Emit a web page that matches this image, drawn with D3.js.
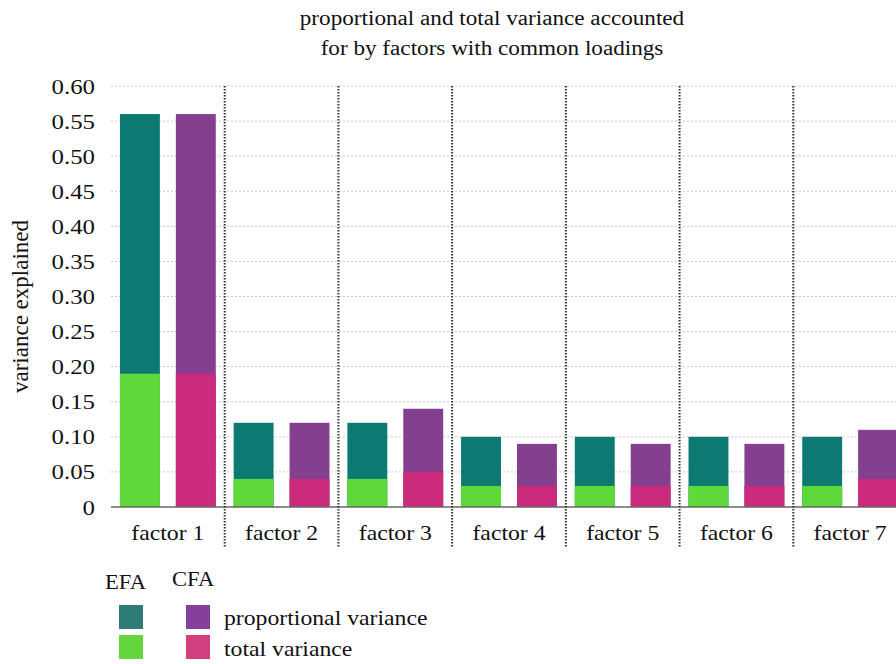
<!DOCTYPE html>
<html>
<head>
<meta charset="utf-8">
<script src="https://cdn.jsdelivr.net/npm/d3@7"></script>
<style>
  body { margin: 0; background: #fff; }
  svg { display: block; font-family: "Liberation Serif", "Times New Roman", serif; }
</style>
</head>
<body>
<div id="chart"></div>
<script>
var factors = ["factor 1", "factor 2", "factor 3", "factor 4", "factor 5", "factor 6", "factor 7"];
var efaProportional = [0.56, 0.12, 0.12, 0.10, 0.10, 0.10, 0.10];
var efaTotal = [0.19, 0.04, 0.04, 0.03, 0.03, 0.03, 0.03];
var cfaProportional = [0.56, 0.12, 0.14, 0.09, 0.09, 0.09, 0.11];
var cfaTotal = [0.19, 0.04, 0.05, 0.03, 0.03, 0.03, 0.04];
var yTicks = [0, 0.05, 0.10, 0.15, 0.20, 0.25, 0.30, 0.35, 0.40, 0.45, 0.50, 0.55, 0.60];
var methods = ["EFA", "CFA"];

var W = 896, H = 664,
    margin = { top: 86, left: 111, bottom: 157 },
    plotH = H - margin.top - margin.bottom,
    plotW = 796,
    sx = 1.13; // text in the original is a little wide

var colors = {
  EFA: { prop: "#0c7a72", total: "#5fd83a" },
  CFA: { prop: "#843f8f", total: "#cc2a7b" }
};
var legendColors = {
  EFA: { prop: "#2f7b76", total: "#62d63c" },
  CFA: { prop: "#84409a", total: "#d3407f" }
};

// widen a text around its own anchor
function widen(sel) {
  sel.each(function() {
    var t = d3.select(this),
        tx = +t.attr("x") || 0,
        ty = +t.attr("y") || 0;
    t.attr("x", 0).attr("y", 0)
      .attr("transform", "translate(" + tx + "," + ty + ") scale(" + sx + ",1)");
  });
}

var svg = d3.select("#chart").append("svg")
  .attr("width", W)
  .attr("height", H);

var x = d3.scaleBand()
  .domain(factors)
  .range([0, plotW]);

var x1 = d3.scaleBand()
  .domain(methods)
  .range([0, x.bandwidth()])
  .paddingInner(0.286)
  .paddingOuter(0.16);

var y = d3.scaleLinear()
  .domain([0, 0.6])
  .range([plotH, 0]);

var g = svg.append("g")
  .attr("transform", "translate(" + margin.left + "," + margin.top + ")");

// horizontal grid
g.append("g").selectAll("line").data(yTicks.slice(1))
  .enter().append("line")
    .attr("x1", 0).attr("x2", plotW)
    .attr("y1", function(d) { return y(d); })
    .attr("y2", function(d) { return y(d); })
    .attr("stroke", "#c8c8c8")
    .attr("stroke-width", 1)
    .attr("stroke-dasharray", "2,2");

// y axis labels
var yAxis = d3.axisLeft(y)
  .tickValues(yTicks)
  .tickSize(0)
  .tickPadding(16)
  .tickFormat(function(d) { return d === 0 ? "0" : d3.format(".2f")(d); });

var yG = g.append("g").call(yAxis);
yG.select(".domain").remove();
yG.selectAll("text")
  .attr("font-family", "Liberation Serif, serif")
  .attr("font-size", 22)
  .attr("fill", "#111")
  .call(widen);

// bars
var rows = factors.map(function(f, i) {
  return [
    { factor: f, method: "EFA", prop: efaProportional[i], total: efaTotal[i] },
    { factor: f, method: "CFA", prop: cfaProportional[i], total: cfaTotal[i] }
  ];
});

var groups = g.append("g").selectAll("g").data(rows)
  .enter().append("g")
    .attr("transform", function(d) { return "translate(" + x(d[0].factor) + ",0)"; });

groups.selectAll("rect.prop").data(function(d) { return d; })
  .enter().append("rect")
    .attr("class", "prop")
    .attr("x", function(d) { return x1(d.method); })
    .attr("width", x1.bandwidth())
    .attr("y", function(d) { return y(d.prop); })
    .attr("height", function(d) { return plotH - y(d.prop); })
    .attr("fill", function(d) { return colors[d.method].prop; });

groups.selectAll("rect.total").data(function(d) { return d; })
  .enter().append("rect")
    .attr("class", "total")
    .attr("x", function(d) { return x1(d.method); })
    .attr("width", x1.bandwidth())
    .attr("y", function(d) { return y(d.total); })
    .attr("height", function(d) { return plotH - y(d.total); })
    .attr("fill", function(d) { return colors[d.method].total; });

// baseline
g.append("line")
  .attr("x1", 0).attr("x2", plotW)
  .attr("y1", plotH).attr("y2", plotH)
  .attr("stroke", "#666")
  .attr("stroke-width", 1.5);

// vertical dividers
g.append("g").selectAll("line").data(factors.slice(1))
  .enter().append("line")
    .attr("x1", function(d) { return x(d); })
    .attr("x2", function(d) { return x(d); })
    .attr("y1", 0)
    .attr("y2", plotH + 41)
    .attr("stroke", "#333")
    .attr("stroke-width", 2)
    .attr("stroke-dasharray", "1.5,1.5");

// x labels
var xAxis = d3.axisBottom(x).tickSize(0).tickPadding(18);
var xG = g.append("g")
  .attr("transform", "translate(0," + plotH + ")")
  .call(xAxis);
xG.select(".domain").remove();
xG.selectAll("text")
  .attr("font-family", "Liberation Serif, serif")
  .attr("font-size", 21)
  .attr("fill", "#111")
  .call(widen);

// y title
svg.append("text")
  .attr("transform", "translate(28," + (margin.top + plotH / 2 + 10) + ") rotate(-90)")
  .attr("text-anchor", "middle")
  .attr("font-size", 23)
  .attr("fill", "#111")
  .text("variance explained");

// chart title
var title = ["proportional and total variance accounted", "for by factors with common loadings"];
svg.append("g").selectAll("text").data(title)
  .enter().append("text")
    .attr("x", 492)
    .attr("y", function(d, i) { return 25 + i * 30; })
    .attr("text-anchor", "middle")
    .attr("font-size", 20.5)
    .attr("fill", "#111")
    .text(function(d) { return d; })
    .call(widen);

// legend
var legend = svg.append("g");
legend.selectAll("text.head").data(methods)
  .enter().append("text")
    .attr("class", "head")
    .attr("x", function(d, i) { return i === 0 ? 105 : 172; })
    .attr("y", function(d, i) { return i === 0 ? 589 : 586; })
    .attr("font-size", 20)
    .attr("fill", "#111")
    .text(function(d) { return d; })
    .call(widen);

var series = [
  { key: "prop", label: "proportional variance" },
  { key: "total", label: "total variance" }
];
methods.forEach(function(m, mi) {
  legend.selectAll("rect." + m).data(series)
    .enter().append("rect")
      .attr("class", m)
      .attr("x", mi === 0 ? 119 : 186)
      .attr("y", function(d, i) { return 605 + i * 30; })
      .attr("width", 24)
      .attr("height", 24)
      .attr("fill", function(d) { return legendColors[m][d.key]; });
});
legend.selectAll("text.lab").data(series)
  .enter().append("text")
    .attr("class", "lab")
    .attr("x", 224)
    .attr("y", function(d, i) { return 625 + i * 31; })
    .attr("font-size", 21)
    .attr("fill", "#111")
    .text(function(d) { return d.label; })
    .call(widen);
</script>
</body>
</html>
